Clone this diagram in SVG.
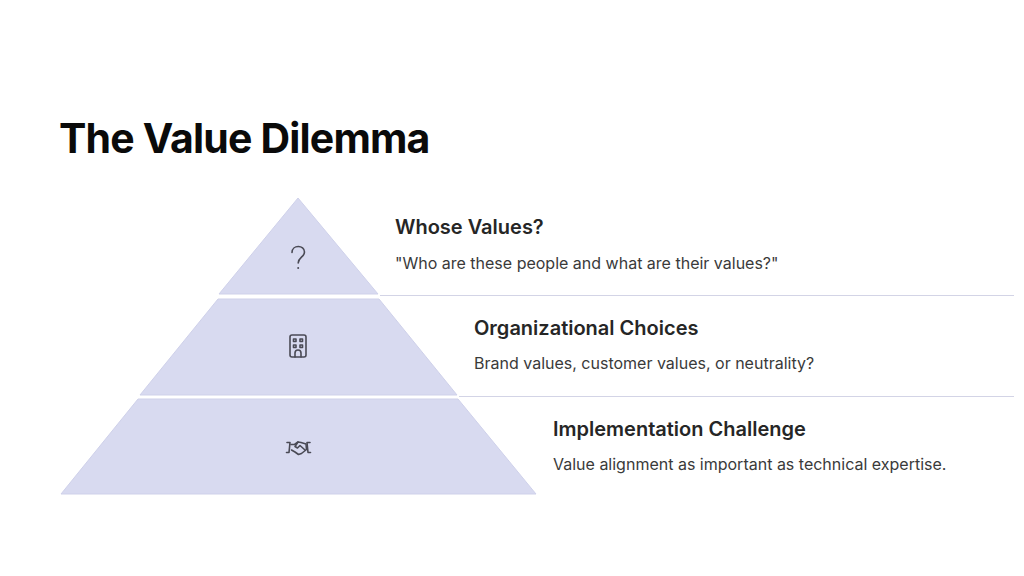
<svg xmlns="http://www.w3.org/2000/svg" width="1024" height="576" viewBox="0 0 1024 576">
<style>
.tier{fill:#d8daf0;stroke:#cfd1ea;stroke-width:1}
.title{font-family:Inter,"Liberation Sans",sans-serif;font-weight:700;font-size:41px;fill:#0a0a0a;letter-spacing:-0.83px}
.h{font-family:Inter,"Liberation Sans",sans-serif;font-weight:600;font-size:20px;fill:#262626}
.d{font-family:Inter,"Liberation Sans",sans-serif;font-size:16px;fill:#3a3a3a}
.icon{fill:none;stroke:#4a4a55;stroke-width:1.6;stroke-linecap:round;stroke-linejoin:round}
.rule{stroke:#d3d4e6;stroke-width:1.2;fill:none}
</style>
<rect width="1024" height="576" fill="#ffffff"/>
<text class="title" x="59" y="152.500">The Value Dilemma</text>
<g id="connectors">
<line class="rule" x1="380" y1="295.500" x2="1014" y2="295.500"/>
<line class="rule" x1="459" y1="396.500" x2="1014" y2="396.500"/>
</g>
<g id="tier-top">
<polygon class="tier" points="298,198 378,294 219,294"/>
<path class="icon" d="M292 252.500c0-8 12.500-8 12.500-.5c0 5-6.300 5.500-6.300 11"/>
<circle cx="298.200" cy="268" r="1" fill="#4a4a55"/>
<text class="h" x="395" y="234">Whose Values?</text>
<text class="d" x="395" y="269">"Who are these people and what are their values?"</text>
</g>
<g id="tier-middle">
<polygon class="tier" points="218,299 379,299 457,395 140,395"/>
<rect class="icon" x="290" y="335" width="16" height="22" rx="2"/>
<path class="icon" d="M295 357v-4a3 3 0 0 1 6 0v4"/>
<rect class="icon" x="293.500" y="339" width="2.500" height="2.500"/>
<rect class="icon" x="300" y="339" width="2.500" height="2.500"/>
<rect class="icon" x="293.500" y="345" width="2.500" height="2.500"/>
<rect class="icon" x="300" y="345" width="2.500" height="2.500"/>
<text class="h" x="474" y="335">Organizational Choices</text>
<text class="d" x="474" y="369">Brand values, customer values, or neutrality?</text>
</g>
<g id="tier-bottom">
<polygon class="tier" points="138,399 458,399 536,494 61,494"/>
<path class="icon" d="M287 442.500h3l-1 10h-2.500M310 442.500h-3l1 10h2.500"/>
<path class="icon" d="M291 444.500l3.500 0l3.500-2.500l3 .5l5 1.500l.5 5.500l-5 4l-3 1l-3.500-2.500l-3.500-2"/>
<path class="icon" d="M298 442l-3 4.500l2.500 1.500l2.500-2.500l5 4.500"/>
<text class="h" x="553" y="436">Implementation Challenge</text>
<text class="d" x="553" y="470">Value alignment as important as technical expertise.</text>
</g>
</svg>
